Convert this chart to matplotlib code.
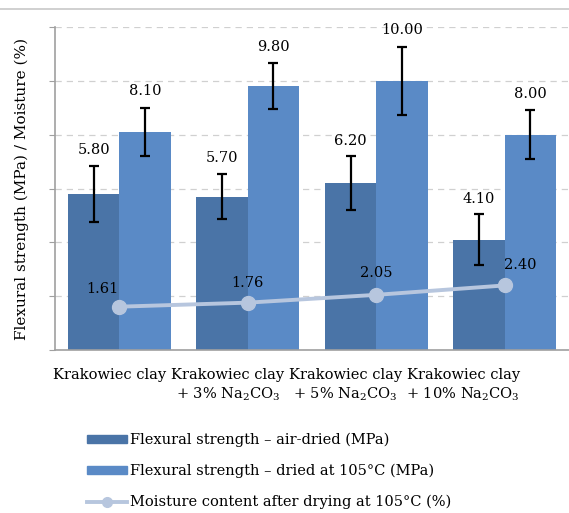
import numpy as np
import matplotlib
matplotlib.use('Agg')
import matplotlib.pyplot as plt
from matplotlib.lines import Line2D
from matplotlib.patches import Patch

plt.rcParams['font.family'] = ['DejaVu Serif']
plt.rcParams['mathtext.fontset'] = 'dejavuserif'

categories = ['Krakowiec clay',
              'Krakowiec clay\n+ 3% Na$_2$CO$_3$',
              'Krakowiec clay\n+ 5% Na$_2$CO$_3$',
              'Krakowiec clay\n+ 10% Na$_2$CO$_3$']
air_dried = [5.80, 5.70, 6.20, 4.10]
air_dried_err = [1.05, 0.85, 1.00, 0.95]
dried_105 = [8.10, 9.80, 10.00, 8.00]
dried_105_err = [0.90, 0.85, 1.25, 0.90]
moisture = [1.61, 1.76, 2.05, 2.40]

c_dark = '#4a74a7'
c_light = '#5a8ac6'
c_line = '#b7c6de'

fig = plt.figure(figsize=(5.69, 5.13), dpi=100)
ax = fig.add_axes([0.0967, 0.3177, 0.9033, 0.6296])

x = np.arange(len(categories))
w = 0.4
ax.bar(x - w / 2, air_dried, w, color=c_dark, zorder=2)
ax.bar(x + w / 2, dried_105, w, color=c_light, zorder=2)
ax.errorbar(x - w / 2, air_dried, yerr=air_dried_err, fmt='none', ecolor='black',
            elinewidth=1.6, capsize=3.5, capthick=1.6, zorder=3)
ax.errorbar(x + w / 2, dried_105, yerr=dried_105_err, fmt='none', ecolor='black',
            elinewidth=1.6, capsize=3.5, capthick=1.6, zorder=3)
ax.plot(x, moisture, color=c_line, lw=2.8, marker='o', ms=10, zorder=4)

fs = 10.5
for xi, v, e in zip(x - w / 2, air_dried, air_dried_err):
    ax.annotate(f'{v:.2f}', (xi, v + e), xytext=(0, 6), textcoords='offset points',
                ha='center', va='bottom', fontsize=fs)
for xi, v, e in zip(x + w / 2, dried_105, dried_105_err):
    ax.annotate(f'{v:.2f}', (xi, v + e), xytext=(0, 7), textcoords='offset points',
                ha='center', va='bottom', fontsize=fs)
offsets = [(-12, 8), (0, 9), (0, 11), (11, 10)]
for xi, v, off in zip(x, moisture, offsets):
    ax.annotate(f'{v:.2f}', (xi, v), xytext=off, textcoords='offset points',
                ha='center', va='bottom', fontsize=fs)

ax.set_xlim(-0.5, 3.5)
ax.set_ylim(0, 12)
ax.set_yticks(np.arange(0, 13, 2))
ax.set_yticklabels([])
ax.tick_params(axis='y', length=4, color='#a0a0a0')
ax.grid(axis='y', color='#d0d0d0', ls=(0, (5, 4)), lw=0.9, zorder=0)
for s in ['top', 'right']:
    ax.spines[s].set_visible(False)
for s in ['left', 'bottom']:
    ax.spines[s].set_color('#a0a0a0')
    ax.spines[s].set_linewidth(1.2)

# tick labels sit a bit left of the group centres in the reference
ax.set_xticks(-0.072 + 0.916 * x)
ax.set_xticklabels(categories, fontsize=fs, linespacing=1.25)
ax.tick_params(axis='x', length=0, pad=13)

ax.set_ylabel('Flexural strength (MPa) / Moisture (%)', fontsize=11, labelpad=11)

handles = [Patch(color=c_dark), Patch(color=c_light),
           Line2D([], [], color=c_line, lw=2.8, marker='o', ms=7)]
labels = ['Flexural strength – air-dried (MPa)',
          'Flexural strength – dried at 105°C (MPa)',
          'Moisture content after drying at 105°C (%)']
fig.legend(handles, labels, loc='upper left', bbox_to_anchor=(0.142, 0.168),
           frameon=False, fontsize=fs, handlelength=2.75, handleheight=0.5,
           handletextpad=0.25, labelspacing=1.15, borderaxespad=0)

fig.add_artist(Line2D([0, 1], [0.982, 0.982], color='#c8c8c8', lw=1.2,
                      transform=fig.transFigure))

fig.savefig('out.png', dpi=100)
